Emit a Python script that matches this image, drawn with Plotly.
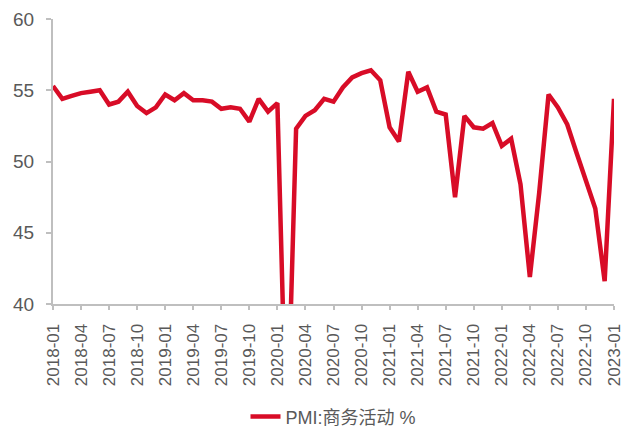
import plotly.graph_objects as go

months = [f"{y}-{m:02d}" for y in range(2018, 2023) for m in range(1, 13)] + ["2023-01"]

pmi_business = [
    55.3, 54.4, 54.6, 54.8, 54.9, 55.0, 54.0, 54.2, 54.9, 53.9, 53.4, 53.8,
    54.7, 54.3, 54.8, 54.3, 54.3, 54.2, 53.7, 53.8, 53.7, 52.8, 54.4, 53.5,
    54.1, 29.6, 52.3, 53.2, 53.6, 54.4, 54.2, 55.2, 55.9, 56.2, 56.4, 55.7,
    52.4, 51.4, 56.3, 54.9, 55.2, 53.5, 53.3, 47.5, 53.2, 52.4, 52.3, 52.7,
    51.1, 51.6, 48.4, 41.9, 47.8, 54.7, 53.8, 52.6, 50.6, 48.7, 46.7, 41.6,
    54.4,
]

tick_labels = months[::3]
y_ticks = [40, 45, 50, 55, 60]

series_name = "PMI:商务活动 %"
line_color = "#D80C27"
axis_color = "#BFBFBF"
text_color = "#595959"
font_family = "Liberation Sans, Arial, Noto Sans CJK SC, sans-serif"

fig = go.Figure()
fig.add_trace(go.Scatter(
    x=months,
    y=pmi_business,
    mode="lines",
    name=series_name,
    line=dict(color=line_color, width=4.5),
    showlegend=True,
))

fig.update_layout(
    width=622,
    height=428,
    margin=dict(l=53, r=8, t=19, b=124, autoexpand=False),
    paper_bgcolor="white",
    plot_bgcolor="white",
    font=dict(family=font_family, color=text_color),
    showlegend=True,
    legend=dict(
        orientation="h",
        x=0.5,
        xanchor="center",
        y=-0.396,
        yanchor="middle",
        font=dict(size=18, color=text_color, family=font_family),
    ),
    xaxis=dict(
        type="category",
        categoryorder="array",
        categoryarray=months,
        range=[0, len(months) - 1],
        tickmode="array",
        tickvals=tick_labels,
        ticktext=tick_labels,
        tickangle=-90,
        tickfont=dict(size=17, color=text_color, family=font_family),
        ticklabelstandoff=7,
        showline=True,
        linecolor=axis_color,
        linewidth=2,
        ticks="outside",
        ticklen=4,
        tickcolor=axis_color,
        tickwidth=2,
        showgrid=False,
        zeroline=False,
        automargin=False,
    ),
    yaxis=dict(
        range=[40, 60],
        tickmode="array",
        tickvals=y_ticks,
        tickfont=dict(size=19, color=text_color, family=font_family),
        ticklabelstandoff=8,
        showline=True,
        linecolor=axis_color,
        linewidth=2,
        ticks="outside",
        ticklen=5,
        tickcolor=axis_color,
        tickwidth=2,
        showgrid=False,
        zeroline=False,
        automargin=False,
    ),
)

# remove the browser's default 8px body margin so the figure fills the window
fig.write_html(
    "out.html",
    config={"displayModeBar": False},
    post_script="document.body.style.margin='0';document.body.style.overflow='hidden';",
)
